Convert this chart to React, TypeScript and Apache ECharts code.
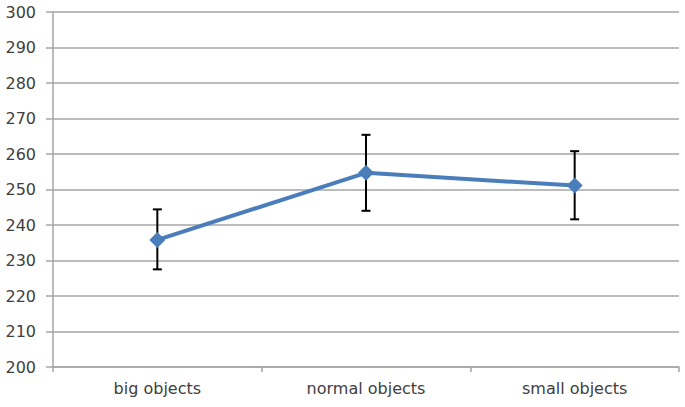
import React, { useEffect, useRef } from "react";
import * as echarts from "echarts";

const categories = ["big objects", "normal objects", "small objects"];
const means = [235.8, 254.7, 251.1];
const upper = [244.4, 265.4, 260.8];
const lower = [227.5, 244.0, 241.6];
const yMin = 200;
const yMax = 300;
const yStep = 10;

export default function App() {
  const ref = useRef<HTMLDivElement>(null);
  useEffect(() => {
    document.body.style.margin = "0";
    const chart = echarts.init(ref.current!, null, { renderer: "svg" });
    const errData = categories.map((_, i) => [i, lower[i], upper[i]]);
    chart.setOption({
      animation: false,
      backgroundColor: "#ffffff",
      grid: { left: 53, right: 6, top: 12, bottom: 40, containLabel: false },
      xAxis: {
        type: "category",
        data: categories,
        boundaryGap: true,
        axisLine: { lineStyle: { color: "#a6a6a6", width: 1.5 } },
        axisTick: { show: true, length: 5, lineStyle: { color: "#a6a6a6", width: 1.5 } },
        axisLabel: {
          color: "#404040",
          fontFamily: "DejaVu Sans",
          fontSize: 16,
          margin: 13,
        },
        splitLine: { show: false },
      },
      yAxis: {
        type: "value",
        min: yMin,
        max: yMax,
        interval: yStep,
        axisLine: { show: true, lineStyle: { color: "#a6a6a6", width: 1.5 } },
        axisTick: { show: true, length: 7, lineStyle: { color: "#a6a6a6", width: 1.5 } },
        axisLabel: {
          color: "#404040",
          fontFamily: "DejaVu Sans",
          fontSize: 16,
          margin: 17,
        },
        splitLine: { show: true, lineStyle: { color: "#a6a6a6", width: 1.5 } },
      },
      series: [
        {
          type: "custom",
          z: 1,
          data: errData,
          renderItem: (params: any, api: any) => {
            const idx = api.value(0);
            const lo = api.coord([idx, api.value(1)]);
            const hi = api.coord([idx, api.value(2)]);
            const hw = 4.5;
            const style = { stroke: "#000000", lineWidth: 2 };
            return {
              type: "group",
              children: [
                { type: "line", shape: { x1: hi[0], y1: hi[1], x2: lo[0], y2: lo[1] }, style },
                { type: "line", shape: { x1: hi[0] - hw, y1: hi[1], x2: hi[0] + hw, y2: hi[1] }, style },
                { type: "line", shape: { x1: lo[0] - hw, y1: lo[1], x2: lo[0] + hw, y2: lo[1] }, style },
              ],
            };
          },
        },
        {
          type: "line",
          z: 3,
          data: means,
          symbol: "diamond",
          symbolSize: 16,
          itemStyle: { color: "#4a7ebb" },
          lineStyle: { color: "#4a7ebb", width: 4 },
        },
      ],
    });
    return () => chart.dispose();
  }, []);
  return <div ref={ref} style={{ width: 685, height: 407 }} />;
}
